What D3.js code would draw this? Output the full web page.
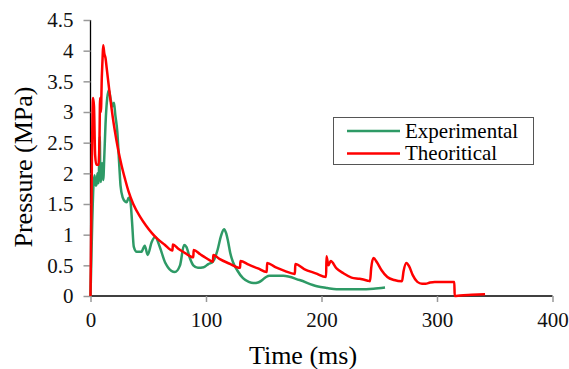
<!DOCTYPE html>
<html>
<head>
<meta charset="utf-8">
<script src="https://cdn.jsdelivr.net/npm/d3@7"></script>
<style>
  body { margin: 0; background: #fff; }
  svg text { font-family: "Liberation Serif", "Times New Roman", serif; }
</style>
</head>
<body>
<div class="svg"></div>
<script>
// time (ms), pressure (MPa)
const theoTime = [0,1.2,2.2,3,4,5,7,7.8,8.3,9,9.8,10.5,11,12,13,14,17,21,24,27,30,33,37,43,48,53,58,64,71,71.3,76,82,89,89.3,95,100,106,106.3,112,120,129.5,129.8,137,145,152.6,152.9,160,168,177,177.3,185,195,204,204.3,206,208,213,219,226,233,240,242,243,245,248,252,257,263,269.7,271,273.5,276,279,283,287,290,294,298,315,315.3,320,330,341.6];
const theoP = [0,2.2,3.23,3.1,2.3,2.14,2.14,2.6,3.23,3.0,3.57,3.9,4.09,3.95,3.88,3.72,3.24,2.7,2.38,2.12,1.9,1.7,1.5,1.29,1.15,1.03,0.93,0.84,0.74,0.84,0.77,0.7,0.63,0.75,0.68,0.62,0.56,0.67,0.6,0.53,0.46,0.57,0.51,0.45,0.39,0.54,0.47,0.41,0.36,0.52,0.44,0.37,0.31,0.65,0.5,0.57,0.45,0.37,0.3,0.28,0.25,0.24,0.45,0.62,0.55,0.42,0.31,0.26,0.24,0.4,0.54,0.48,0.34,0.23,0.2,0.2,0.22,0.23,0.23,0,0.01,0.02,0.03];

const expTime = [0,1.5,2.5,3.5,4.5,5.5,6,7,8,8.5,9,10,11,12,13,14.5,16,17.5,19,20.3,21.5,23.2,25,26,28,30,31.3,33,34.5,36,37.5,40,44,47,49.5,53,56,60,64.5,67,73,77.5,81,83,86,89,93,98,102,106,110,113,115.6,117.5,119,121,123.4,127,132,137,141,145,148,152,155,167,181,196,205,213,233,245,255];
const expP = [0,1.2,1.78,1.97,1.8,1.84,2.0,1.84,2.6,2.0,1.86,2.17,1.89,2.3,2.8,3.23,3.36,3.2,3.09,3.15,2.95,2.68,2.1,1.8,1.6,1.54,1.53,1.6,1.55,1.2,0.8,0.72,0.72,0.82,0.67,0.88,0.96,0.8,0.55,0.47,0.39,0.5,0.83,0.8,0.62,0.5,0.46,0.47,0.52,0.56,0.75,0.98,1.09,1.02,0.9,0.7,0.55,0.42,0.29,0.23,0.21,0.22,0.25,0.31,0.33,0.33,0.26,0.16,0.13,0.11,0.11,0.12,0.14];

const xTicks = [0,100,200,300,400];
const yTicks = [0,0.5,1,1.5,2,2.5,3,3.5,4,4.5];
const seriesNames = ["Experimental","Theoritical"];
const seriesColors = ["#2e9a66","#ff0000"];

const width = 569, height = 369;
const mLeft = 90.5, mRight = 552.5, mTop = 20, mBottom = 296;
const serif = '"Liberation Serif", "Times New Roman", serif';

let svg = d3.select('.svg').append('svg').attr('width', width).attr('height', height);

let scaleX = d3.scaleLinear().domain([0,400]).range([mLeft,mRight]);
let scaleY = d3.scaleLinear().domain([0,4.5]).range([mBottom,mTop]);

// axes
let axisX = d3.axisBottom(scaleX).tickValues(xTicks).tickSize(6).tickPadding(10).tickFormat(d3.format('d'));
let axisY = d3.axisLeft(scaleY).tickValues(yTicks).tickSize(7).tickPadding(10).tickFormat(d => d);

let gx = svg.append('g').attr('transform','translate(0,'+ mBottom +')').call(axisX);
let gy = svg.append('g').attr('transform','translate('+ mLeft +',0)').call(axisY);

[gx, gy].forEach(g => {
    g.attr('font-family', serif).attr('font-size', 21);
    g.select('.domain').attr('stroke','#000').attr('stroke-width',1.3);
    g.selectAll('.tick line').attr('stroke','#999').attr('stroke-width',1.5);
    g.selectAll('.tick text').attr('fill','#111');
});
gy.select('.domain').attr('d','M0,'+ mTop +'V'+ mBottom);
gx.select('.domain').attr('d','M'+ mLeft +',0H'+ mRight);

// lines
let line = d3.line()
    .x(d => scaleX(d[0]))
    .y(d => scaleY(d[1]))
    .curve(d3.curveMonotoneX);

let expData = expTime.map((t,i) => [t, expP[i]]);
let theoData = theoTime.map((t,i) => [t, theoP[i]]);

svg.append('path').datum(expData).attr('d', line)
    .attr('fill','none').attr('stroke', seriesColors[0]).attr('stroke-width',2.5)
    .attr('stroke-linejoin','round');
svg.append('path').datum(theoData).attr('d', line)
    .attr('fill','none').attr('stroke', seriesColors[1]).attr('stroke-width',2.5)
    .attr('stroke-linejoin','round');

// axis titles
svg.append('text').attr('x',303).attr('y',364).attr('text-anchor','middle')
    .attr('font-size',26).text('Time (ms)');
svg.append('text').attr('transform','translate(32,167) rotate(-90)').attr('text-anchor','middle')
    .attr('font-size',26).text('Pressure (MPa)');

// legend
let lg = svg.append('g');
lg.append('rect').attr('x',333.5).attr('y',117.5).attr('width',200).attr('height',47)
    .attr('fill','#fff').attr('stroke','#555').attr('stroke-width',1);
seriesNames.forEach((n,i) => {
    let y = 131 + i*22.5;
    lg.append('line').attr('x1',347).attr('x2',400).attr('y1',y).attr('y2',y)
        .attr('stroke',seriesColors[i]).attr('stroke-width',2.5);
    lg.append('text').attr('x',405).attr('y',y+6.5).attr('font-size',21).text(n);
});
</script>
</body>
</html>
